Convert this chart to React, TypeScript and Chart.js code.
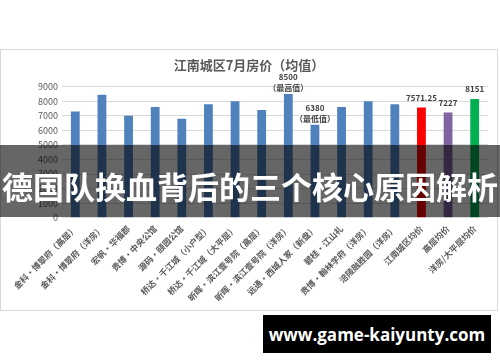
import React, { useEffect, useRef } from 'react';
import { Chart, registerables } from 'chart.js';

Chart.register(...registerables);

const chartTitle = '江南城区7月房价（均值）';

const categories = [
  '金科·博翠府（高层）',
  '金科·博翠府（洋房）',
  '宏帆·华福郡',
  '贵博·中央公馆',
  '源码·颐园公馆',
  '桥达·千江城（小户型）',
  '桥达·千江城（大平层）',
  '昕晖·滨江壹号院（高层）',
  '昕晖·滨江壹号院（洋房）',
  '远通·西城人家（新盘）',
  '碧桂·江山礼',
  '贵博·翰林学府（洋房）',
  '涪陵融胜园（洋房）',
  '江南城区均价',
  '高层均价',
  '洋房/大平层均价',
];

const prices = [7300, 8450, 7000, 7600, 6800, 7800, 8000, 7400, 8500, 6380, 7600, 8000, 7800, 7571.25, 7227, 8151];

const valueLabels = ['', '', '', '', '', '', '', '', '8500', '6380', '', '', '', '7571.25', '7227', '8151'];
const noteLabels = ['', '', '', '', '', '', '', '', '（最高值）', '（最低值）', '', '', '', '', '', ''];

const yTicks = [0, 1000, 2000, 3000, 4000, 5000, 6000, 7000, 8000, 9000];

const bannerText = '德国队换血背后的三个核心原因解析';
const siteText = 'www.game-kaiyunty.com';

const BLUE = '#4f81bd';
const barColors = prices.map((_, i) =>
  i === 13 ? '#ff0000' : i === 14 ? '#8064a2' : i === 15 ? '#00b050' : BLUE
);

const FONT = '"Noto Sans CJK SC", "Noto Sans", sans-serif';

const labelPlugin = {
  id: 'barLabels',
  afterDatasetsDraw(chart: any) {
    const ctx = chart.ctx;
    const meta = chart.getDatasetMeta(0);
    ctx.save();
    ctx.fillStyle = '#404040';
    ctx.font = `bold 8px ${FONT}`;
    ctx.textAlign = 'center';
    ctx.textBaseline = 'middle';
    meta.data.forEach((el: any, i: number) => {
      const v = valueLabels[i];
      if (!v) return;
      const note = noteLabels[i];
      if (note) {
        ctx.fillText(note, el.x, el.y - 6);
        ctx.fillText(v, el.x, el.y - 17);
      } else {
        ctx.fillText(v, el.x, el.y - 10);
      }
    });
    ctx.restore();
  },
};

function BarChart() {
  const ref = useRef<HTMLCanvasElement | null>(null);
  useEffect(() => {
    if (!ref.current) return;
    const chart = new Chart(ref.current, {
      type: 'bar',
      data: {
        labels: categories,
        datasets: [
          {
            data: prices,
            backgroundColor: barColors,
            borderWidth: 0,
            barPercentage: 0.33,
            categoryPercentage: 1,
          },
        ],
      },
      options: {
        animation: false,
        responsive: false,
        devicePixelRatio: 1,
        layout: { padding: { left: 10, right: 10, top: 0, bottom: 0 } },
        plugins: {
          legend: { display: false },
          tooltip: { enabled: false },
          title: {
            display: true,
            text: chartTitle,
            color: '#595959',
            font: { family: FONT, size: 13, weight: 'bold' },
            padding: { top: 8.2, bottom: 13.9 },
          },
        },
        scales: {
          x: {
            grid: { display: false, drawTicks: false },
            border: { display: false },
            ticks: {
              autoSkip: false,
              minRotation: 45,
              maxRotation: 45,
              padding: 6,
              color: '#595959',
              font: { family: FONT, size: 8.5, weight: 'bold' },
            },
            afterFit: (s: any) => {
              s.height = 93.3;
            },
          },
          y: {
            min: 0,
            max: 9000,
            afterBuildTicks: (s: any) => {
              s.ticks = yTicks.map((v) => ({ value: v }));
            },
            grid: { color: '#d9d9d9', drawTicks: false },
            border: { display: false },
            ticks: {
              padding: 4,
              color: '#595959',
              font: { family: FONT, size: 9 },
              callback: (v: any) => String(v),
            },
            afterFit: (s: any) => {
              s.width = 52;
            },
          },
        },
      },
      plugins: [labelPlugin],
    } as any);
    return () => chart.destroy();
  }, []);
  return <canvas ref={ref} width={498} height={262} style={{ position: 'absolute', left: 0, top: 49, width: 498, height: 262 }} />;
}

export default function App() {
  return (
    <div style={{ position: 'fixed', left: 0, top: 0, width: 500, height: 362, background: '#ffffff', overflow: 'hidden' }}>
      <BarChart />
      <div
        style={{
          position: 'absolute',
          left: 0,
          top: 49,
          width: 498,
          height: 262,
          boxSizing: 'border-box',
          border: '1px solid #d9d9d9',
          pointerEvents: 'none',
        }}
      />
      <div
        style={{
          position: 'absolute',
          left: 0,
          top: 145,
          width: 500,
          height: 72,
          background: 'rgba(0,0,0,0.6)',
        }}
      />
      <div
        style={{
          position: 'absolute',
          left: 0,
          top: 170,
          width: 500,
          height: 32,
          lineHeight: '32px',
          textAlign: 'center',
          color: '#ffffff',
          fontFamily: FONT,
          fontWeight: 'bold',
          fontSize: 31,
          whiteSpace: 'nowrap',
        }}
      >
        {bannerText}
      </div>
      <div
        style={{
          position: 'absolute',
          left: 263,
          top: 315,
          width: 228,
          height: 38,
          background: '#000000',
          color: '#ffffff',
          display: 'flex',
          alignItems: 'center',
          justifyContent: 'center',
          fontFamily: '"Open Sans", sans-serif',
          fontWeight: 'bold',
          fontSize: 17,
          whiteSpace: 'nowrap',
        }}
      >
        {siteText}
      </div>
    </div>
  );
}
